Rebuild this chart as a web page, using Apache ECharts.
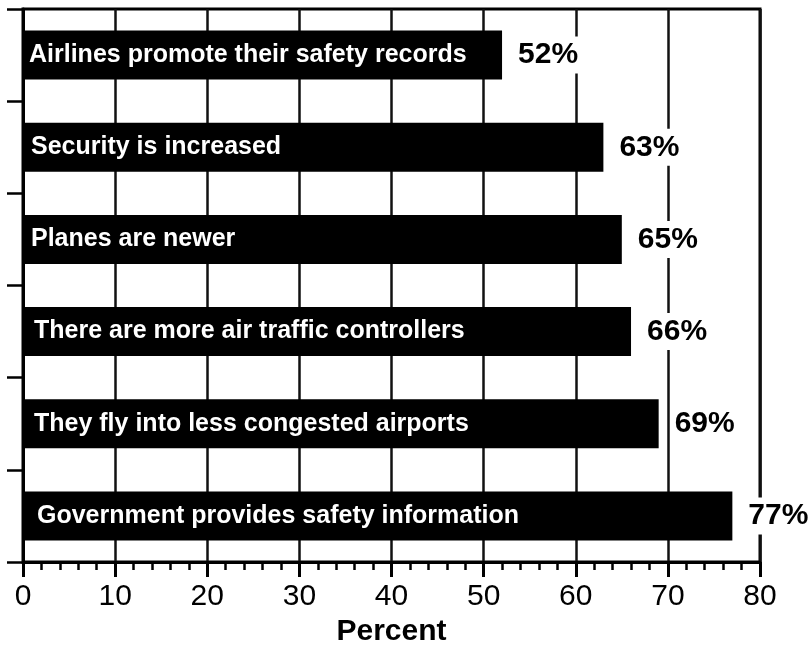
<!DOCTYPE html>
<html>
<head>
<meta charset="utf-8">
<script src="https://cdn.jsdelivr.net/npm/echarts@6/dist/echarts.min.js"></script>
<style>
  html, body { margin: 0; padding: 0; background: #fff; }
  #chart { width: 809px; height: 646px; }
</style>
</head>
<body>
<div id="chart"></div>
<script>
// 数据
var categories = [
    'Airlines promote their safety records',
    'Security is increased',
    'Planes are newer',
    'There are more air traffic controllers',
    'They fly into less congested airports',
    'Government provides safety information'
];
var percents = [52, 63, 65, 66, 69, 77];
var textOffsets = [6, 8, 8, 11, 11, 14];

var FONT = '"Liberation Sans", Arial, Helvetica, sans-serif';

var myChart = echarts.init(document.getElementById('chart'));

var option = {
    animation: false,
    backgroundColor: '#fff',
    grid: {
        left: 23, right: 49, top: 9, bottom: 84,
        outerBoundsMode: 'none',
        containLabel: false,
        show: true,
        borderColor: '#000',
        borderWidth: 3
    },
    xAxis: {
        type: 'value',
        min: 0, max: 80, interval: 10,
        name: 'Percent',
        nameLocation: 'middle',
        nameGap: 55,
        nameTextStyle: { fontFamily: FONT, fontSize: 30, fontWeight: 'bold', color: '#000' },
        axisLine: { show: true, lineStyle: { color: '#000', width: 3 } },
        axisTick: { show: true, length: 15, lineStyle: { color: '#000', width: 3 } },
        minorTick: { show: true, splitNumber: 5, length: 8, lineStyle: { color: '#000', width: 2.5 } },
        splitLine: { show: true, lineStyle: { color: '#111', width: 2.5 } },
        axisLabel: { fontFamily: FONT, fontSize: 30, color: '#000', margin: 20 }
    },
    yAxis: {
        type: 'category',
        inverse: true,
        data: categories,
        axisLine: { show: true, lineStyle: { color: '#000', width: 3 } },
        axisTick: { show: true, length: 16, lineStyle: { color: '#000', width: 2.5 } },
        axisLabel: { show: false },
        splitLine: { show: false }
    },
    series: [
        {
            type: 'bar',
            data: percents.map(function (v, i) {
                return { value: v, label: { distance: textOffsets[i] } };
            }),
            barWidth: 49,
            itemStyle: { color: '#000' },
            label: {
                show: true,
                position: 'insideLeft',
                formatter: '{b}',
                color: '#fff',
                fontFamily: FONT,
                fontSize: 25,
                fontWeight: 'bold'
            },
            z: 3
        },
        {
            type: 'bar',
            data: percents,
            barWidth: 49,
            barGap: '-100%',
            itemStyle: { color: 'rgba(0,0,0,0)' },
            label: {
                show: true,
                position: 'right',
                distance: 14,
                formatter: '{c}%',
                color: '#000',
                fontFamily: FONT,
                fontSize: 30,
                fontWeight: 'bold',
                backgroundColor: '#fff',
                padding: [4, 2, 3, 2]
            },
            z: 4
        }
    ]
};

myChart.setOption(option);
</script>
</body>
</html>
